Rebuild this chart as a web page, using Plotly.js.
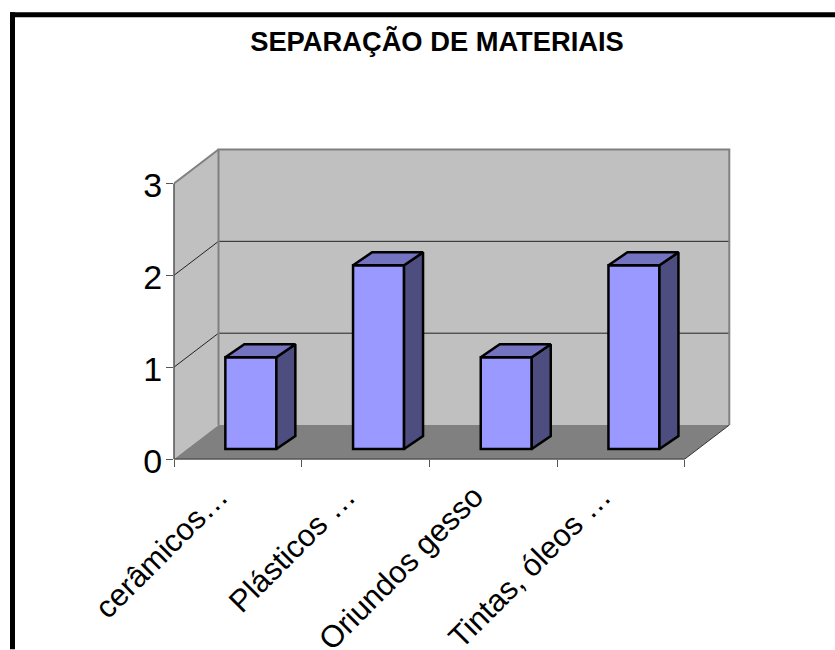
<!DOCTYPE html>
<html><head><meta charset="utf-8">
<script src="https://cdn.plot.ly/plotly-3.0.1.min.js"></script>
<style>html,body{margin:0;padding:0;background:#fff}#c{width:835px;height:650px}</style>
</head><body><div id="c"></div>
<script>
const categories = ["cerâmicos…", "Plásticos …", "Oriundos gesso", "Tintas, óleos …"];
const values = [1, 2, 1, 2];
const yTicks = [0, 1, 2, 3];
const titleText = "SEPARAÇÃO DE MATERIAIS";

// pixel geometry of the plot (front axes)
const X0 = 174, SLOT = 127.7, Y0 = 459.5, UNIT = 92, PLOT_R = 745, PLOT_T = 135;
const ux = px => px / SLOT, uy = px => px / UNIT;
const DEPTH_X = ux(44.5), DEPTH_Y = uy(34);
const BAR_OFF_X = ux(13), BAR_OFF_Y = uy(10), BAR_W = ux(51), BAR_DX = ux(19), BAR_DY = uy(13);
const xL = -0.5, xR = categories.length - 0.5, yT = yTicks[yTicks.length - 1];

const poly = (pts) => 'M' + pts.map(p => p.join(' ')).join('L') + 'Z';
const shapes = [
  {type:'path', path:poly([[xL,0],[xL+DEPTH_X,DEPTH_Y],[xL+DEPTH_X,yT+DEPTH_Y],[xL,yT]]), fillcolor:'#C0C0C0', line:{width:0}, layer:'below'},
  {type:'path', path:poly([[xL+DEPTH_X,DEPTH_Y],[xR+DEPTH_X,DEPTH_Y],[xR+DEPTH_X,yT+DEPTH_Y],[xL+DEPTH_X,yT+DEPTH_Y]]), fillcolor:'#C0C0C0', line:{width:0}, layer:'below'},
  {type:'path', path:poly([[xL,0],[xR,0],[xR+DEPTH_X,DEPTH_Y],[xL+DEPTH_X,DEPTH_Y]]), fillcolor:'#808080', line:{width:0}, layer:'below'}
];
// wall gridlines
yTicks.slice(1).forEach(v => {
  const col = v === yT ? '#808080' : '#222222';
  const w = v === yT ? 2 : 1;
  if (v !== yT) shapes.push({type:'line', x0:xL+DEPTH_X, x1:xR+DEPTH_X, y0:v+DEPTH_Y, y1:v+DEPTH_Y, line:{color:col,width:w}, layer:'below'});
  shapes.push({type:'line', x0:xL, x1:xL+DEPTH_X, y0:v, y1:v+DEPTH_Y, line:{color:col,width:w}, layer:'below'});
});
// wall outline
shapes.push({type:'path', path:'M'+(xL+DEPTH_X)+' '+DEPTH_Y+'V'+(yT+DEPTH_Y)+'H'+(xR+DEPTH_X)+'V'+DEPTH_Y, line:{color:'#808080',width:2}, layer:'below'});
shapes.push({type:'line', x0:xR, x1:xR+DEPTH_X, y0:0, y1:DEPTH_Y, line:{color:'#333333',width:1}, layer:'below'});
// front axis lines, not clipped on their short side
const axisColor = '#555555';
shapes.push({type:'line', xref:'x', yref:'paper', x0:xL, x1:xR, y0:0, y1:0, line:{color:axisColor,width:1.5}, layer:'above'});
shapes.push({type:'line', xref:'paper', yref:'y', x0:0, x1:0, y0:0, y1:yT, line:{color:axisColor,width:1.5}, layer:'above'});
// outer frame, paper coordinates
const W = 835, H = 650;
const frame = (x0,y0,x1,y1)=>({type:'rect',xref:'paper',yref:'paper',x0:x0,x1:x1,y0:y0,y1:y1,fillcolor:'#000',line:{width:0}});
const paperX = px => (px - X0) / (PLOT_R - X0), paperY = py => (Y0 - py) / (Y0 - PLOT_T);
shapes.push(frame(paperX(10),paperY(650),paperX(15),paperY(12)));
shapes.push(frame(paperX(10),paperY(17),paperX(835),paperY(12)));

const barColor = '#9999FF', topColor = '#7373BF', sideColor = '#4D4D80', edge = '#000';
const edgeW = 2.5;
const traces = [];
traces.push({type:'bar', x:categories.map((c,i)=>i+BAR_OFF_X), y:values, base:BAR_OFF_Y, width:BAR_W,
  marker:{color:barColor, line:{color:edge,width:edgeW}}, hoverinfo:'skip', cliponaxis:false});
values.forEach((v,i)=>{
  const l=i-BAR_W/2+BAR_OFF_X, r=i+BAR_W/2+BAR_OFF_X, b=BAR_OFF_Y, t=v+BAR_OFF_Y;
  traces.push({type:'scatter',mode:'lines',x:[r,r+BAR_DX,r+BAR_DX,r,r],y:[b,b+BAR_DY,t+BAR_DY,t,b],fill:'toself',fillcolor:sideColor,line:{color:edge,width:edgeW},hoverinfo:'skip',cliponaxis:false});
  traces.push({type:'scatter',mode:'lines',x:[l,r,r+BAR_DX,l+BAR_DX,l],y:[t,t,t+BAR_DY,t+BAR_DY,t],fill:'toself',fillcolor:topColor,line:{color:edge,width:edgeW},hoverinfo:'skip',cliponaxis:false});
});
const boundaries = categories.map((c,i)=>i-0.5).concat([xR]);

const layout = {
  width:W, height:H, showlegend:false, paper_bgcolor:'#fff', plot_bgcolor:'rgba(0,0,0,0)',
  margin:{l:X0, r:W-PLOT_R, t:PLOT_T, b:H-Y0, pad:0},
  font:{family:'"Liberation Sans",Arial,sans-serif',color:'#000'},
  title:{text:'<b>'+titleText+'</b>', font:{size:27.3,color:'#000',family:'"Liberation Sans",Arial,sans-serif'}, x:437/W, xanchor:'center', xref:'container', y:1-41/H, yanchor:'middle', yref:'container'},
  xaxis:{type:'linear', range:[xL,xL+(PLOT_R-X0)/SLOT], tickmode:'array', tickvals:categories.map((c,i)=>i), ticktext:categories, tickangle:-45, ticks:'', showgrid:false, zeroline:false, showline:false, tickfont:{size:31}, ticklabelshift:-19, ticklabelstandoff:12, fixedrange:true,
    minor:{tickmode:'array', tickvals:boundaries, ticks:'outside', ticklen:7, tickcolor:axisColor, tickwidth:1, showgrid:false}},
  yaxis:{type:'linear', range:[0,(Y0-PLOT_T)/UNIT], tickmode:'array', tickvals:yTicks, ticktext:yTicks.map(String), ticks:'outside', ticklen:7, tickcolor:axisColor, tickwidth:1, showgrid:false, zeroline:false, showline:false, tickfont:{size:34}, ticklabelstandoff:-3, ticklabelshift:2, fixedrange:true},
  shapes:shapes, bargap:0
};
Plotly.newPlot('c', traces, layout, {displayModeBar:false, staticPlot:true});
</script></body></html>
